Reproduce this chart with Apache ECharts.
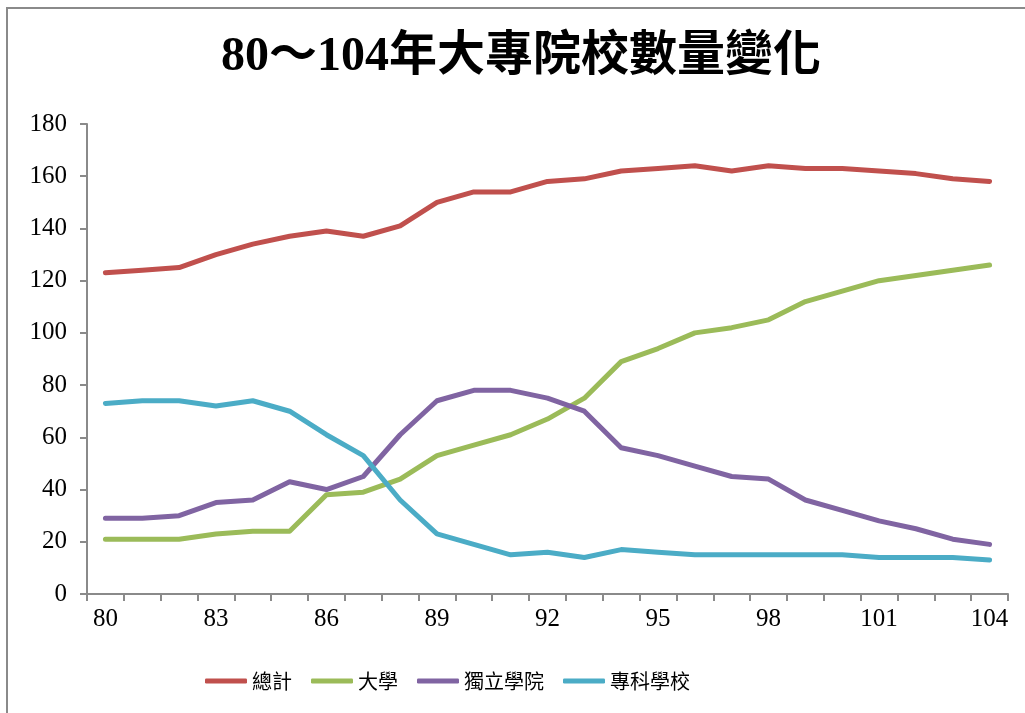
<!DOCTYPE html>
<html>
<head>
<meta charset="utf-8">
<script src="https://cdn.jsdelivr.net/npm/echarts@6/dist/echarts.min.js"></script>
<style>
html,body{margin:0;padding:0;background:#fff;}
#chart{width:1025px;height:713px;}
</style>
</head>
<body>
<div id="chart"></div>
<script>
const titleText = '80～104年大專院校數量變化';
const years = ['80','81','82','83','84','85','86','87','88','89','90','91','92','93','94','95','96','97','98','99','100','101','102','103','104'];
const seriesNames = ['總計','大學','獨立學院','專科學校'];
const total = [123,124,125,130,134,137,139,137,141,150,154,154,158,159,162,163,164,162,164,163,163,162,161,159,158];
const university = [21,21,21,23,24,24,38,39,44,53,57,61,67,75,89,94,100,102,105,112,116,120,122,124,126];
const college = [29,29,30,35,36,43,40,45,61,74,78,78,75,70,56,53,49,45,44,36,32,28,25,21,19];
const juniorCollege = [73,74,74,72,74,70,61,53,36,23,19,15,16,14,17,16,15,15,15,15,15,14,14,14,13];
const colors = ['#C0504D','#9BBB59','#8064A2','#4BACC6'];

const serif = '"Liberation Serif","Times New Roman","Noto Sans CJK TC",serif';
const chart = echarts.init(document.getElementById('chart'));
const dataSets = [total, university, college, juniorCollege];

chart.setOption({
  animation: false,
  backgroundColor: '#fff',
  graphic: [{
    type: 'rect',
    shape: {x: 7, y: 8, width: 1030, height: 720},
    style: {fill: 'none', stroke: '#8a8a8a', lineWidth: 2},
    z: -1
  }],
  title: {
    text: titleText,
    left: 216,
    top: 29,
    textStyle: {fontFamily: serif, fontWeight: 'bold', fontSize: 48, color: '#000'}
  },
  legend: {
    left: 200,
    top: 666,
    icon: 'roundRect',
    itemWidth: 42,
    itemHeight: 5,
    itemGap: 19,
    textStyle: {fontFamily: '"Noto Sans CJK TC",sans-serif', fontSize: 20, color: '#000'},
    data: seriesNames
  },
  grid: {left: 87, right: 17, top: 124, bottom: 119, containLabel: false},
  xAxis: {
    type: 'category',
    data: years,
    boundaryGap: true,
    axisLine: {lineStyle: {color: '#8a8a8a', width: 2}},
    axisTick: {show: true, length: 7, interval: 0, lineStyle: {color: '#8a8a8a', width: 2}},
    axisLabel: {interval: 2, margin: 13, fontFamily: serif, fontSize: 25, color: '#000'},
    splitLine: {show: false}
  },
  yAxis: {
    type: 'value',
    min: 0, max: 180, interval: 20,
    axisLine: {show: true, lineStyle: {color: '#8a8a8a', width: 2}},
    axisTick: {show: true, length: 7, lineStyle: {color: '#8a8a8a', width: 2}},
    axisLabel: {margin: 20, fontFamily: serif, fontSize: 25, color: '#000'},
    splitLine: {show: false}
  },
  series: seriesNames.map((n, i) => ({
    name: n,
    type: 'line',
    data: dataSets[i],
    symbol: 'none',
    color: colors[i],
    lineStyle: {width: 5, color: colors[i], cap: 'round', join: 'round'}
  }))
});
</script>
</body>
</html>
